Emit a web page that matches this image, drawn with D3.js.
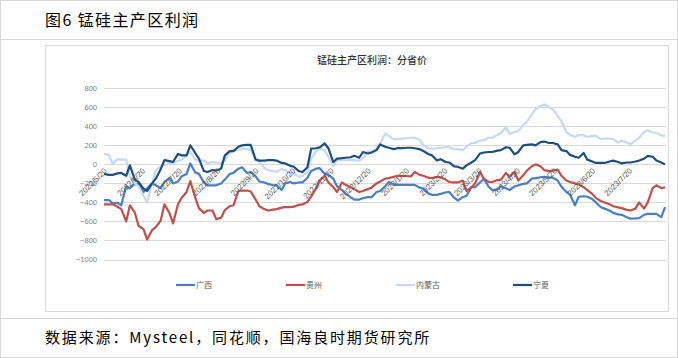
<!DOCTYPE html>
<html><head><meta charset="utf-8">
<script src="https://cdn.jsdelivr.net/npm/d3@7"></script>
<style>
html,body{margin:0;padding:0;background:#fff;}
svg{display:block;}
</style></head>
<body>
<svg id="c" width="678" height="358"></svg>
<script>
const dates = ["2022/5/20","2022/5/24","2022/5/27","2022/5/31","2022/6/3","2022/6/7","2022/6/10","2022/6/14","2022/6/17","2022/6/21","2022/6/24","2022/6/28","2022/7/1","2022/7/5","2022/7/8","2022/7/12","2022/7/15","2022/7/19","2022/7/22","2022/7/26","2022/7/29","2022/8/2","2022/8/5","2022/8/9","2022/8/12","2022/8/16","2022/8/19","2022/8/23","2022/8/26","2022/8/30","2022/9/2","2022/9/6","2022/9/9","2022/9/13","2022/9/16","2022/9/20","2022/9/23","2022/9/27","2022/9/30","2022/10/4","2022/10/7","2022/10/11","2022/10/14","2022/10/18","2022/10/21","2022/10/25","2022/10/28","2022/11/1","2022/11/4","2022/11/8","2022/11/11","2022/11/15","2022/11/18","2022/11/22","2022/11/25","2022/11/29","2022/12/2","2022/12/6","2022/12/9","2022/12/13","2022/12/16","2022/12/20","2022/12/23","2022/12/27","2022/12/30",
"2023/1/3","2023/1/6","2023/1/10","2023/1/13","2023/1/17","2023/1/20","2023/1/24","2023/1/27","2023/1/31","2023/2/3","2023/2/7","2023/2/10","2023/2/14","2023/2/17","2023/2/21","2023/2/24","2023/2/28","2023/3/3","2023/3/7","2023/3/10","2023/3/14","2023/3/17","2023/3/21","2023/3/24","2023/3/28","2023/3/31","2023/4/4","2023/4/7","2023/4/11","2023/4/14","2023/4/18","2023/4/21","2023/4/25","2023/4/28","2023/5/2","2023/5/5","2023/5/9","2023/5/12","2023/5/16","2023/5/19","2023/5/23","2023/5/26","2023/5/30","2023/6/2","2023/6/6","2023/6/9","2023/6/13","2023/6/16","2023/6/20","2023/6/23","2023/6/27","2023/6/30","2023/7/4","2023/7/7","2023/7/11","2023/7/14","2023/7/18","2023/7/21","2023/7/25","2023/7/28","2023/8/1","2023/8/4","2023/8/8","2023/8/11","2023/8/15","2023/8/18"];
const guangxi = [-375,-375,-410,-405,-430,-230,-250,-205,-210,-290,-250,-200,-220,-250,-185,-145,-200,-180,-125,-100,10,-85,-100,-190,-220,-220,-220,-200,-160,-100,-90,-45,-30,-90,-80,-125,-180,-190,-205,-220,-220,-270,-200,-185,-200,-190,-190,-140,-70,-45,-40,-100,-110,-150,-230,-270,-310,-345,-370,-370,-355,-345,-345,-290,-280,-230,-185,-215,-215,-215,-215,-215,-215,-245,-255,-305,-320,-320,-310,-295,-290,-350,-380,-345,-330,-240,-240,-190,-150,-235,-270,-265,-230,-250,-270,-230,-220,-205,-200,-150,-145,-135,-130,-140,-140,-170,-235,-290,-320,-430,-340,-335,-340,-365,-400,-450,-465,-485,-510,-525,-530,-555,-570,-568,-565,-530,-520,-520,-520,-555,-450];
const guizhou = [-420,-420,-420,-445,-470,-600,-430,-505,-645,-680,-790,-690,-660,-590,-420,-510,-620,-420,-350,-290,-175,-350,-460,-510,-485,-485,-575,-560,-480,-440,-430,-280,-275,-275,-285,-370,-440,-470,-485,-475,-470,-455,-450,-450,-445,-425,-420,-395,-340,-250,-170,-120,-190,-240,-290,-190,-215,-240,-260,-290,-280,-260,-245,-200,-180,-150,-145,-130,-120,-122,-122,-125,-80,-110,-120,-140,-145,-130,-135,-160,-185,-190,-190,-170,-280,-240,-200,-80,-150,-185,-185,-165,-160,-90,-130,-80,-170,-115,-65,-20,0,-20,-60,-70,-65,-55,-120,-170,-185,-200,-210,-240,-270,-310,-355,-385,-400,-420,-440,-452,-460,-478,-485,-465,-400,-465,-400,-250,-220,-250,-240];
const neimenggu = [110,100,5,55,50,50,-130,-200,-230,-330,-400,-200,-60,-25,-10,15,10,40,50,95,130,50,40,40,10,25,20,15,40,130,140,155,160,165,150,55,25,-35,-60,-70,-80,-50,-60,-85,-100,-130,-120,-80,60,140,165,150,80,-20,45,45,45,45,45,40,60,140,130,165,220,325,300,265,265,270,275,280,280,260,200,170,165,170,175,180,180,160,160,150,185,225,225,250,255,280,280,310,330,390,320,340,350,415,450,525,580,615,630,600,580,510,450,340,310,290,310,305,290,300,300,265,270,270,265,230,250,230,210,250,280,340,360,335,330,305,300];
const ningxia = [-100,-110,-110,-95,-90,-120,-10,-160,-185,-255,-280,-200,-150,-50,45,35,25,110,95,95,200,120,60,-70,-80,-60,-65,-45,95,140,140,185,200,205,205,50,40,40,45,45,40,15,10,-15,-25,-70,-80,-30,165,170,180,220,170,25,60,65,70,75,90,70,130,115,125,150,210,185,175,160,170,170,175,175,170,160,140,110,95,40,55,25,20,-20,-25,-45,-10,20,45,115,125,130,130,145,150,180,175,105,130,200,205,210,200,235,240,225,225,210,150,140,100,80,70,120,50,30,15,15,15,30,40,25,10,20,20,30,40,60,90,80,40,20,0];
const seriesNames = ["广西","贵州","内蒙古","宁夏"];
const seriesColors = ["#4a7fc1","#c0504d","#c5d9f1","#1f4e7d"];
const yTicks = [800,600,400,200,0,-200,-400,-600,-800,-1000];
const xTickLabels = ["2022/5/20","2022/6/20","2022/7/20","2022/8/20","2022/9/20","2022/10/20","2022/11/20","2022/12/20","2023/1/20","2023/2/20","2023/3/20","2023/4/20","2023/5/20","2023/6/20","2023/7/20"];
const titleText = "图6  锰硅主产区利润";
const chartTitle = "锰硅主产区利润：分省价";
const sourceText = "数据来源：Mysteel，同花顺，国海良时期货研究所";

const svg = d3.select("#c");
const parse = d3.timeParse("%Y/%m/%d");
const xd = dates.map(parse);

// frame
svg.append("rect").attr("x",0.5).attr("y",0.5).attr("width",677).attr("height",357).attr("fill","none").attr("stroke","#d9d9d9");
svg.append("line").attr("x1",0).attr("x2",678).attr("y1",39.5).attr("y2",39.5).attr("stroke","#d9d9d9");
svg.append("line").attr("x1",0).attr("x2",678).attr("y1",318.5).attr("y2",318.5).attr("stroke","#d9d9d9");
svg.append("rect").attr("x",45.5).attr("y",45.5).attr("width",623).attr("height",266).attr("fill","none").attr("stroke","#d9d9d9");

svg.append("text").attr("x",45).attr("y",26).attr("font-family","'Noto Sans CJK SC',sans-serif").attr("font-size",16).attr("letter-spacing",1.4).attr("fill","#000").text(titleText);
svg.append("text").attr("x",45).attr("y",343).attr("font-family","'Noto Sans CJK SC',sans-serif").attr("font-size",15).attr("letter-spacing",1.85).attr("fill","#000").text(sourceText);

svg.append("text").attr("x",372).attr("y",64).attr("text-anchor","middle").attr("font-family","'Noto Sans CJK SC',sans-serif").attr("font-size",10).attr("font-weight","500").attr("fill","#333").text(chartTitle);

const x = d3.scaleTime().domain([xd[0], xd[xd.length-1]]).range([104,665]);
const y = d3.scaleLinear().domain([-1000,800]).range([259.5,88.3]);

// gridlines
svg.append("g").selectAll("line").data(yTicks).join("line")
  .attr("x1",104).attr("x2",666).attr("y1",d=>Math.round(y(d))+0.5).attr("y2",d=>Math.round(y(d))+0.5)
  .attr("stroke","#d9d9d9").attr("stroke-width",1);

// y axis labels
const yAxis = d3.axisLeft(y).tickValues(yTicks).tickSize(0).tickPadding(0).tickFormat(d3.format("d"));
const gy = svg.append("g").attr("transform","translate(97,0)").call(yAxis);
gy.select(".domain").remove();
gy.selectAll("text").attr("font-family","'Liberation Sans',Arial,sans-serif").attr("font-size",7.5).attr("fill","#7f7f7f");

// lines
const all = [guangxi, guizhou, neimenggu, ningxia];
const line = d3.line().x((d,i)=>x(xd[i])).y(d=>y(d));
all.forEach((s,i)=>{
  svg.append("path").datum(s).attr("d",line).attr("fill","none")
    .attr("stroke",seriesColors[i]).attr("stroke-width",2.2).attr("stroke-linejoin","round");
});

// x labels
const tickDates = xTickLabels.map(parse);
const xAxis = d3.axisBottom(x).tickValues(tickDates).tickSize(0).tickFormat((d,i)=>xTickLabels[i]);
const gx = svg.append("g").attr("transform",`translate(0,${y(0)})`).call(xAxis);
gx.select(".domain").remove();
gx.selectAll("text").attr("font-family","'Liberation Sans',Arial,sans-serif").attr("font-size",8).attr("fill","#595959")
  .attr("text-anchor","end").attr("dy",0).attr("y",0)
  .attr("transform","translate(3,7) rotate(-45)");

// legend
const legX = [176,286,396,513];
const lg = svg.append("g");
seriesNames.forEach((n,i)=>{
  lg.append("line").attr("x1",legX[i]).attr("x2",legX[i]+19).attr("y1",285).attr("y2",285).attr("stroke",seriesColors[i]).attr("stroke-width",2.2);
  lg.append("text").attr("x",legX[i]+20).attr("y",288).attr("font-family","'Noto Sans CJK SC',sans-serif").attr("font-size",8).attr("fill","#595959").text(n);
});
</script>
</body></html>
